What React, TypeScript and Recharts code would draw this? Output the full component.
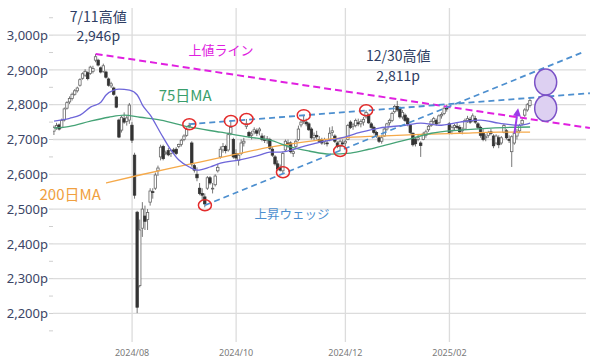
import {
  ComposedChart,
  Bar,
  Line,
  XAxis,
  YAxis,
  CartesianGrid,
  ReferenceLine,
  ReferenceDot,
} from "recharts";

// daily candles, trading-day index 0 = 2024/06/19 ... 183 = 2025/03/21
const opens = [
  2724, 2735, 2742, 2735, 2756, 2790, 2808, 2818, 2830, 2840, 2856, 2876, 2885, 2892, 2890, 2896, 2928, 2928, 2906, 2896,
  2894, 2874, 2854, 2848, 2822, 2756, 2727, 2760, 2752, 2756, 2741, 2655, 2491, 2280, 2445, 2480, 2470, 2520, 2550, 2560,
  2610, 2650, 2680, 2660, 2668, 2660, 2670, 2672, 2680, 2686, 2700, 2712, 2738, 2690, 2625, 2600, 2560, 2545, 2535, 2560,
  2590, 2560, 2570, 2610, 2650, 2670, 2680, 2670, 2718, 2700, 2660, 2640, 2660, 2690, 2738, 2720, 2712, 2722, 2725, 2725,
  2710, 2700, 2698, 2700, 2672, 2650, 2630, 2620, 2610, 2670, 2690, 2690, 2660, 2680, 2700, 2742, 2752, 2750, 2745, 2730,
  2705, 2712, 2700, 2700, 2695, 2690, 2700, 2720, 2710, 2690, 2680, 2690, 2690, 2700, 2750, 2738, 2740, 2748, 2745, 2750,
  2765, 2770, 2745, 2735, 2720, 2705, 2695, 2710, 2730, 2748, 2755, 2780, 2795, 2790, 2765, 2770, 2760, 2740, 2718, 2700,
  2700, 2690, 2700, 2712, 2728, 2740, 2752, 2755, 2748, 2768, 2775, 2790, 2745, 2725, 2735, 2738, 2735, 2725, 2730, 2755,
  2758, 2755, 2760, 2745, 2735, 2720, 2705, 2712, 2722, 2710, 2690, 2705, 2690, 2720, 2725, 2700, 2665, 2690, 2710, 2725,
  2745, 2770, 2785, 2798,
];
const highs = [
  2740, 2748, 2746, 2760, 2792, 2810, 2824, 2835, 2845, 2852, 2876, 2893, 2902, 2896, 2912, 2912, 2946, 2932, 2910, 2918,
  2898, 2878, 2866, 2852, 2826, 2760, 2768, 2778, 2770, 2805, 2750, 2662, 2495, 2470, 2520, 2510, 2500, 2560, 2560, 2605,
  2625, 2685, 2685, 2668, 2676, 2672, 2676, 2678, 2688, 2702, 2715, 2735, 2748, 2695, 2630, 2620, 2575, 2560, 2545, 2595,
  2595, 2575, 2600, 2630, 2680, 2690, 2685, 2720, 2755, 2705, 2672, 2660, 2700, 2705, 2759, 2725, 2725, 2735, 2732, 2735,
  2718, 2712, 2710, 2705, 2678, 2655, 2640, 2628, 2665, 2700, 2700, 2695, 2670, 2700, 2740, 2758, 2770, 2760, 2750, 2735,
  2720, 2725, 2710, 2705, 2705, 2698, 2735, 2738, 2715, 2695, 2700, 2700, 2700, 2745, 2755, 2748, 2760, 2760, 2758, 2765,
  2784, 2775, 2750, 2740, 2725, 2710, 2712, 2735, 2748, 2760, 2780, 2800, 2811, 2795, 2785, 2775, 2765, 2745, 2720, 2707,
  2715, 2695, 2722, 2728, 2742, 2758, 2765, 2760, 2772, 2778, 2795, 2800, 2750, 2740, 2745, 2748, 2742, 2735, 2760, 2768,
  2765, 2775, 2768, 2750, 2740, 2730, 2715, 2725, 2730, 2715, 2715, 2712, 2710, 2745, 2730, 2712, 2712, 2725, 2730, 2745,
  2760, 2790, 2805, 2818,
];
const lows = [
  2713, 2728, 2726, 2732, 2752, 2786, 2802, 2812, 2826, 2835, 2852, 2872, 2880, 2870, 2886, 2890, 2922, 2910, 2890, 2892,
  2875, 2852, 2848, 2826, 2790, 2704, 2720, 2745, 2740, 2745, 2690, 2530, 2201, 2275, 2420, 2440, 2440, 2510, 2530, 2555,
  2595, 2640, 2640, 2655, 2652, 2650, 2660, 2655, 2675, 2680, 2695, 2708, 2732, 2622, 2605, 2580, 2540, 2525, 2505, 2555,
  2570, 2545, 2565, 2605, 2645, 2662, 2660, 2665, 2712, 2645, 2640, 2625, 2655, 2680, 2730, 2705, 2700, 2715, 2710, 2712,
  2695, 2690, 2688, 2670, 2650, 2625, 2610, 2608, 2603, 2665, 2675, 2660, 2650, 2675, 2695, 2735, 2745, 2738, 2725, 2700,
  2698, 2700, 2690, 2685, 2685, 2680, 2695, 2710, 2690, 2675, 2667, 2680, 2680, 2698, 2730, 2728, 2735, 2738, 2735, 2740,
  2760, 2745, 2730, 2715, 2705, 2690, 2688, 2708, 2725, 2740, 2750, 2775, 2780, 2760, 2758, 2750, 2738, 2715, 2680, 2680,
  2695, 2650, 2698, 2705, 2722, 2736, 2745, 2740, 2745, 2760, 2770, 2780, 2715, 2715, 2725, 2730, 2718, 2715, 2728, 2748,
  2745, 2750, 2745, 2730, 2705, 2695, 2695, 2705, 2712, 2675, 2685, 2675, 2685, 2718, 2700, 2690, 2621, 2685, 2700, 2718,
  2740, 2765, 2780, 2792,
];
const closes = [
  2735, 2740, 2730, 2755, 2788, 2806, 2818, 2830, 2840, 2848, 2872, 2889, 2896, 2875, 2908, 2904, 2938, 2914, 2894, 2912,
  2879, 2856, 2860, 2830, 2793, 2707, 2764, 2750, 2762, 2799, 2698, 2540, 2218, 2440, 2500, 2465, 2490, 2552, 2548, 2598,
  2618, 2678, 2645, 2662, 2656, 2668, 2664, 2660, 2686, 2698, 2710, 2730, 2740, 2630, 2612, 2590, 2545, 2540, 2515, 2590,
  2575, 2560, 2595, 2620, 2672, 2680, 2668, 2714, 2735, 2650, 2647, 2655, 2690, 2695, 2745, 2710, 2716, 2728, 2718, 2730,
  2700, 2698, 2702, 2675, 2655, 2630, 2615, 2612, 2660, 2695, 2685, 2665, 2665, 2695, 2730, 2750, 2755, 2745, 2728, 2705,
  2712, 2708, 2695, 2690, 2700, 2688, 2718, 2725, 2695, 2680, 2695, 2688, 2695, 2740, 2735, 2742, 2755, 2745, 2752, 2758,
  2778, 2748, 2735, 2720, 2710, 2695, 2705, 2730, 2745, 2755, 2775, 2795, 2785, 2765, 2778, 2755, 2745, 2720, 2685, 2688,
  2705, 2683, 2716, 2722, 2738, 2752, 2760, 2745, 2768, 2772, 2790, 2788, 2720, 2735, 2740, 2735, 2722, 2728, 2755, 2760,
  2750, 2768, 2750, 2735, 2712, 2700, 2708, 2720, 2718, 2682, 2710, 2685, 2705, 2740, 2705, 2698, 2708, 2718, 2722, 2740,
  2755, 2785, 2800, 2812,
];

// moving averages: [day index, value]
const ma25: [number, number][] = [
  [0, 2753], [6, 2761], [10, 2770], [14, 2793], [18, 2807], [20, 2828], [23, 2842], [25, 2845], [29, 2842],
  [32, 2828], [34, 2799], [37, 2770], [41, 2718], [45, 2669], [48, 2641], [52, 2621], [55, 2612], [60, 2621],
  [64, 2632], [71, 2641], [79, 2655], [83, 2664], [87, 2664], [95, 2678], [102, 2692], [110, 2704], [118, 2721],
  [125, 2733], [135, 2741], [141, 2747], [148, 2741], [156, 2750], [164, 2756], [171, 2747], [179, 2741], [183, 2747],
];
const ma75: [number, number][] = [
  [0, 2733], [6, 2738], [14, 2753], [21, 2764], [27, 2770], [33, 2764], [41, 2756], [52, 2736], [64, 2721],
  [75, 2707], [83, 2698], [91, 2678], [98, 2667], [106, 2658], [114, 2661], [121, 2672], [129, 2687], [135, 2698],
  [145, 2718], [156, 2727], [168, 2733], [183, 2736],
];
const ma200: [number, number][] = [
  [20, 2575], [33, 2598], [45, 2618], [56, 2635], [70, 2658], [83, 2678], [95, 2692], [110, 2704], [125, 2710],
  [141, 2715], [156, 2718], [171, 2721], [183, 2721],
];

const monthTicks = [30, 70, 112, 152];
const monthLabels = ["2024/08", "2024/10", "2024/12", "2025/02"];
const priceTicks = [2150, 2200, 2250, 2300, 2350, 2400, 2450, 2500, 2550, 2600, 2650, 2700, 2750, 2800, 2850, 2900, 2950, 3000, 3050];
const priceGrid = [2200, 2300, 2400, 2500, 2600, 2700, 2800, 2900, 3000];

// annotations: [day index, price]
const highMarks: [number, number][] = [[52, 2744], [68, 2753], [74, 2759], [96, 2770], [120, 2784]];
const lowMarks: [number, number][] = [[58, 2511], [88, 2606], [110, 2667]];
const resistanceLine: [number, number][] = [[16, 2946], [206, 2733]];
const wedgeUpper: [number, number][] = [[52, 2744], [206, 2833]];
const wedgeLower: [number, number][] = [[58, 2511], [203.4, 2951]];
const targetMarks: [number, number][] = [[189, 2865], [189, 2790]];
const breakArrow: [number, number][] = [[177, 2718], [178.4, 2790]];

const toMap = (pairs: [number, number][]) => new Map(pairs);
const m25 = toMap(ma25);
const m75 = toMap(ma75);
const m200 = toMap(ma200);

const rows = opens.map((o, i) => ({
  i,
  range: [lows[i], highs[i]],
  open: o,
  close: closes[i],
  ma25: m25.get(i),
  ma75: m75.get(i),
  ma200: m200.get(i),
}));

const navy = "#2e3d63";
const jp = "'Noto Sans CJK JP', 'Noto Sans', sans-serif";

const fmt = (v: number) => String(v).replace(/\B(?=(\d{3})+(?!\d))/g, ",");

const Candle = (props: any) => {
  const { x, y, width, height, payload } = props;
  const [lo, hi] = payload.range;
  const top = Math.min(y, y + height);
  const h = Math.abs(height);
  const k = hi === lo ? 0 : h / (hi - lo);
  const cx = x + width / 2;
  const yO = top + (hi - payload.open) * k;
  const yC = top + (hi - payload.close) * k;
  const up = payload.close >= payload.open;
  const bw = 2.4;
  return (
    <g>
      <line x1={cx} x2={cx} y1={top} y2={top + h} stroke="#555" strokeWidth={0.8} />
      <rect
        x={cx - bw / 2}
        y={Math.min(yO, yC)}
        width={bw}
        height={Math.max(Math.abs(yC - yO), 0.8)}
        fill={up ? "#fff" : "#333"}
        stroke={up ? "#666" : "#333"}
        strokeWidth={0.8}
      />
    </g>
  );
};

const label = (text: string, color: string, size: number) => (p: any) => (
  <text
    x={p.cx}
    y={p.cy}
    textAnchor="middle"
    dominantBaseline="central"
    fill={color}
    fontSize={size}
    fontFamily={jp}
  >
    {text}
  </text>
);

const ring = (rx: number, ry: number, stroke: string, fill: string) => (p: any) => (
  <ellipse cx={p.cx} cy={p.cy} rx={rx} ry={ry} stroke={stroke} strokeWidth={1.5} fill={fill} />
);

const Arrow = (p: any) => {
  const { x1, y1, x2, y2 } = p;
  const a = Math.atan2(y2 - y1, x2 - x1);
  const L = 8;
  const W = 4;
  const bx = x2 - L * Math.cos(a);
  const by = y2 - L * Math.sin(a);
  const pts = `${x2},${y2} ${bx + W * Math.sin(a)},${by - W * Math.cos(a)} ${bx - W * Math.sin(a)},${by + W * Math.cos(a)}`;
  return (
    <g>
      <line x1={x1} y1={y1} x2={bx} y2={by} stroke="#9b3be8" strokeWidth={2} />
      <polygon points={pts} fill="#9b3be8" />
    </g>
  );
};

const seg = (s: [number, number][]) => s.map(([x, y]) => ({ x, y }));

export default function App() {
  return (
    <div style={{ position: "absolute", left: 0, top: 0, width: 600, height: 361, background: "#fff" }}>
      <ComposedChart
        width={600}
        height={361}
        data={rows}
        margin={{ top: 8, right: 14, bottom: 0, left: 0 }}
      >
        <CartesianGrid
          stroke="#dcdcdc"
          strokeWidth={1.3}
          horizontalValues={priceGrid}
          verticalValues={monthTicks}
        />
        <XAxis
          dataKey="i"
          type="number"
          domain={[-0.4, 204.5]}
          allowDataOverflow
          ticks={monthTicks}
          tickFormatter={(v: number) => monthLabels[monthTicks.indexOf(v)] ?? ""}
          tick={{ fontSize: 9, fill: "#7a7a7a", fontFamily: "'Noto Sans', sans-serif" }}
          axisLine={false}
          tickLine={false}
          height={19}
        />
        <YAxis
          type="number"
          domain={[2118, 3078]}
          allowDataOverflow
          ticks={priceTicks}
          interval={0}
          tickFormatter={(v: number) => (v % 100 === 0 ? `${fmt(v)}p` : "")}
          tick={{ fontSize: 13, fill: "#3b4566", fontFamily: "'Noto Sans', sans-serif" }}
          tickLine={{ stroke: "#cfcfcf" }}
          tickSize={4}
          tickMargin={1}
          axisLine={false}
          width={53}
        />
        <Line dataKey="ma200" type="monotone" stroke="#f5a94a" strokeWidth={1.3} dot={false} connectNulls isAnimationActive={false} />
        <Line dataKey="ma75" type="monotone" stroke="#45a376" strokeWidth={1.3} dot={false} connectNulls isAnimationActive={false} />
        <Line dataKey="ma25" type="monotone" stroke="#6e66d9" strokeWidth={1.3} dot={false} connectNulls isAnimationActive={false} />
        <Bar dataKey="range" barSize={3} shape={Candle} isAnimationActive={false} />

        <ReferenceLine segment={seg(resistanceLine)} stroke="#e020e0" strokeWidth={2} strokeDasharray="7 4" ifOverflow="visible" />
        <ReferenceLine segment={seg(wedgeUpper)} stroke="#4d8fcf" strokeWidth={1.8} strokeDasharray="6 4" ifOverflow="visible" />
        <ReferenceLine segment={seg(wedgeLower)} stroke="#4d8fcf" strokeWidth={1.8} strokeDasharray="6 4" ifOverflow="visible" />

        {highMarks.concat(lowMarks).map(([x, y], k) => (
          <ReferenceDot key={`r${k}`} x={x} y={y} ifOverflow="visible" shape={ring(6.5, 5.5, "#e32b2b", "none")} />
        ))}
        {targetMarks.map(([x, y], k) => (
          <ReferenceDot key={`t${k}`} x={x} y={y} ifOverflow="visible" shape={ring(11, 13, "#7b52c7", "#ddd0f2")} />
        ))}
        <ReferenceLine segment={seg(breakArrow)} ifOverflow="visible" shape={Arrow} />

        <ReferenceDot x={17} y={3056} ifOverflow="visible" shape={label("7/11高値", navy, 14)} />
        <ReferenceDot x={17} y={2999} ifOverflow="visible" shape={label("2,946p", navy, 14)} />
        <ReferenceDot x={132.3} y={2942} ifOverflow="visible" shape={label("12/30高値", navy, 14)} />
        <ReferenceDot x={132.3} y={2886} ifOverflow="visible" shape={label("2,811p", navy, 14)} />
        <ReferenceDot x={64.2} y={2960} ifOverflow="visible" shape={label("上値ライン", "#e020e0", 13)} />
        <ReferenceDot x={50.4} y={2828} ifOverflow="visible" shape={label("75日MA", "#3a9e6c", 15)} />
        <ReferenceDot x={6.2} y={2546} ifOverflow="visible" shape={label("200日MA", "#f0a040", 15)} />
        <ReferenceDot x={91.5} y={2488} ifOverflow="visible" shape={label("上昇ウェッジ", "#4d8fcf", 12.5)} />
      </ComposedChart>
    </div>
  );
}
